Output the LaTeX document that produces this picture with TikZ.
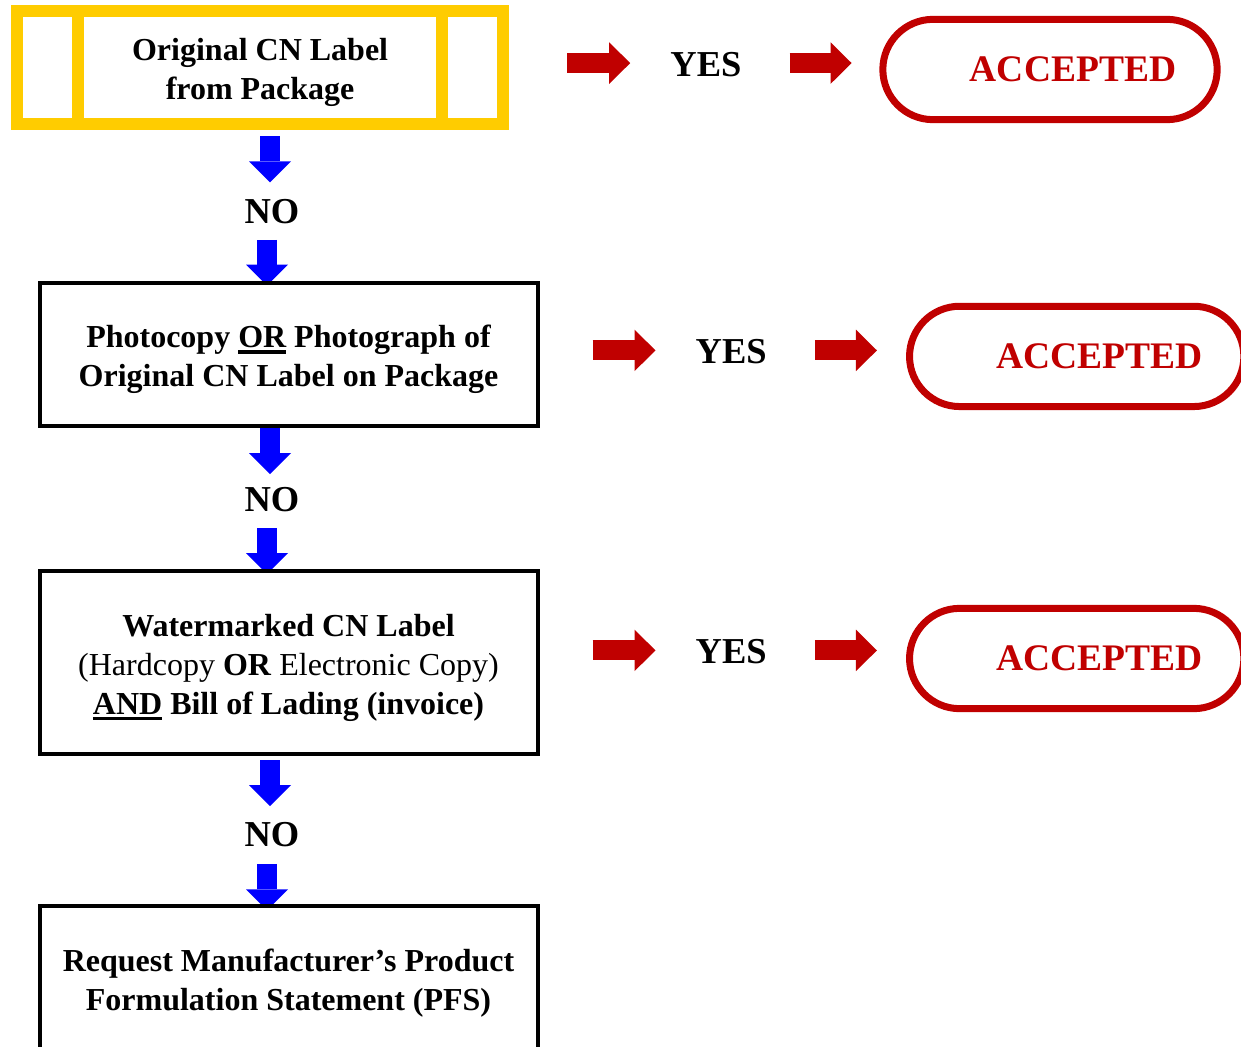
\documentclass[tikz,border=0pt]{standalone}
\usepackage{fontspec}
\setmainfont{Liberation Serif}
\usetikzlibrary{arrows.meta,shapes.misc,backgrounds}
\definecolor{cnyellow}{HTML}{FFCC00}
\definecolor{cnblue}{HTML}{0000FF}
\definecolor{cnred}{HTML}{C00000}
\newcommand{\undr}[1]{\setbox0\hbox{#1}\rlap{\rule[-6pt]{\wd0}{3.5pt}}\box0\relax}
\newcommand{\cnstrut}{\rule{0pt}{33pt}}
\newcommand{\cnboxfont}{\fontsize{32}{39}\selectfont\bfseries}

\begin{document}
\begin{tikzpicture}[x=1pt,y=-1pt,
    flowbox/.style={draw, line width=4pt, fill=white, outer sep=0pt, minimum width=498pt, align=center, font=\cnboxfont},
    firstbox/.style={draw=cnyellow, line width=12pt, fill=white, outer sep=0pt, minimum width=486.7pt, minimum height=112.7pt, align=center, font=\cnboxfont},
    answer/.style={inner sep=0pt, font=\fontsize{36.5}{40}\selectfont\bfseries},
    accepted/.style={rounded rectangle, draw=cnred, line width=7pt, text=cnred, minimum width=341pt, minimum height=100.3pt, font=\fontsize{37.5}{40}\selectfont\bfseries},
    bluearrow/.style={cnblue, line width=20pt, -{Triangle[width=42pt,length=21pt,line width=0pt]}},
    redarrow/.style={cnred, line width=20pt, -{Triangle[width=41.5pt,length=21pt,line width=0pt]}}]
    \useasboundingbox (0,0) rectangle (1241,1046);

            \node[firstbox] (box1) at (260.1,67.2) {\cnstrut Original CN Label\\from Package};
                \draw[cnyellow, line width=12pt] ([xshift=61pt]box1.north west) -- ([xshift=61pt]box1.south west);
                \draw[cnyellow, line width=12pt] ([xshift=-61pt]box1.north east) -- ([xshift=-61pt]box1.south east);
            \node[flowbox, minimum height=143pt] (box2) at (288.5,354.2) {\cnstrut Photocopy \undr{OR} Photograph of\\Original CN Label on Package};
            \node[flowbox, minimum height=183pt] (box3) at (288.5,662.5) {\cnstrut Watermarked CN Label\\{\mdseries(Hardcopy \textbf{OR} Electronic Copy)}\\\undr{AND} Bill of Lading (invoice)};
            \node[flowbox, minimum height=143pt] (box4) at (288.5,977.8) {\cnstrut Request Manufacturer’s Product\\Formulation Statement (PFS)};

            \node[answer] (no1) at (272,211.8) {NO};
            \node[answer] (no2) at (272,499.2) {NO};
            \node[answer] (no3) at (272,835) {NO};

            \node[answer] (yes1) at (705.9,64.6) {YES};
            \node[answer] (yes2) at (731.2,351.9) {YES};
            \node[answer] (yes3) at (731.2,651.9) {YES};

            \node[accepted] (acc1) at (1050,69.5) {\hspace*{46pt}ACCEPTED};
            \node[accepted] (acc2) at (1076.7,356.4) {\hspace*{46pt}ACCEPTED};
            \node[accepted] (acc3) at (1076.7,658.5) {\hspace*{46pt}ACCEPTED};

            \begin{scope}[on background layer]
                \draw[bluearrow, shorten <=12.5pt, shorten >=17pt] ([xshift=-2pt]box1.south -| no1.north) -- ([xshift=-2pt]no1.north);
                \draw[bluearrow, shorten <=15.7pt, shorten >=-3pt] ([xshift=-5pt]no1.south) -- ([xshift=-5pt]no1.south |- box2.north);
                \draw[bluearrow, shorten >=12.5pt] ([xshift=-2pt]box2.south -| no2.north) -- ([xshift=-2pt]no2.north);
                \draw[bluearrow, shorten <=16.5pt, shorten >=-3pt] ([xshift=-5pt]no2.south) -- ([xshift=-5pt]no2.south |- box3.north);
                \draw[bluearrow, shorten <=6pt, shorten >=16.5pt] ([xshift=-2pt]box3.south -| no3.north) -- ([xshift=-2pt]no3.north);
                \draw[bluearrow, shorten <=16.5pt, shorten >=-4pt] ([xshift=-5pt]no3.south) -- ([xshift=-5pt]no3.south |- box4.north);
            \end{scope}

            \draw[redarrow] ([xshift=-103pt,yshift=1.5pt]yes1.west) -- ([xshift=-40pt,yshift=1.5pt]yes1.west);
            \draw[redarrow] ([xshift=48pt,yshift=1.5pt]yes1.east) -- ([xshift=110pt,yshift=1.5pt]yes1.east);
            \draw[redarrow] ([xshift=-103pt,yshift=1.5pt]yes2.west) -- ([xshift=-40pt,yshift=1.5pt]yes2.west);
            \draw[redarrow] ([xshift=48pt,yshift=1.5pt]yes2.east) -- ([xshift=110pt,yshift=1.5pt]yes2.east);
            \draw[redarrow] ([xshift=-103pt,yshift=1.5pt]yes3.west) -- ([xshift=-40pt,yshift=1.5pt]yes3.west);
            \draw[redarrow] ([xshift=48pt,yshift=1.5pt]yes3.east) -- ([xshift=110pt,yshift=1.5pt]yes3.east);
      \end{tikzpicture}
\end{document}
